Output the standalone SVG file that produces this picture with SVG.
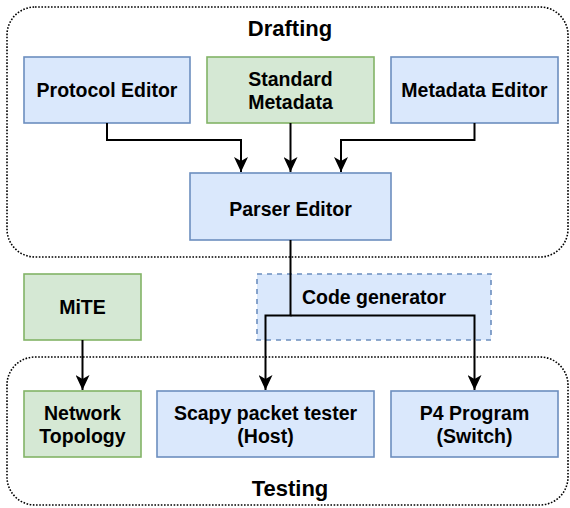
<svg xmlns="http://www.w3.org/2000/svg" width="570" height="508" viewBox="0 0 570 508">
<defs>
<style>
.cont{fill:#ffffff;stroke:#000;stroke-width:1.6;stroke-dasharray:1.6 1.6}
.blue{fill:#dae8fc;stroke:#6c8ebf;stroke-width:1.6}
.green{fill:#d5e8d4;stroke:#82b366;stroke-width:1.6}
.dash{fill:#dae8fc;stroke:#6c8ebf;stroke-width:1.6;stroke-dasharray:5 5}
text{font-family:"Liberation Sans",Arial,sans-serif;font-weight:bold;fill:#000;text-anchor:middle}
.t{font-size:19.5px}
.h{font-size:22px}
.edge{fill:none;stroke:#000;stroke-width:2}
</style>
<marker id="arr" markerWidth="15" markerHeight="14" viewBox="0 0 15 14" refX="15" refY="7" orient="auto" markerUnits="userSpaceOnUse">
<path d="M0 0 L15 7 L0 14 L4 7 Z" fill="#000"/>
</marker>
</defs>
<g id="drafting">
<rect class="cont" x="7" y="7" width="561" height="250" rx="28" ry="28"/>
<text class="h" x="290" y="36">Drafting</text>
</g>
<g id="testing">
<rect class="cont" x="7" y="357" width="561" height="148" rx="28" ry="28"/>
<text class="h" x="290" y="496">Testing</text>
</g>
<g id="code-generator">
<rect class="dash" x="257" y="274" width="234" height="66"/>
<text class="t" x="374" y="304">Code generator</text>
</g>
<g id="protocol-editor">
<rect class="blue" x="24" y="57" width="166" height="66"/>
<text class="t" x="107" y="97">Protocol Editor</text>
</g>
<g id="standard-metadata">
<rect class="green" x="207" y="57" width="167" height="66"/>
<text class="t" x="290.5" y="86">Standard</text>
<text class="t" x="290.5" y="109">Metadata</text>
</g>
<g id="metadata-editor">
<rect class="blue" x="391" y="57" width="167" height="66"/>
<text class="t" x="474.5" y="97">Metadata Editor</text>
</g>
<g id="parser-editor">
<rect class="blue" x="190" y="173" width="201" height="67"/>
<text class="t" x="290.5" y="216">Parser Editor</text>
</g>
<g id="mite">
<rect class="green" x="24" y="274" width="117" height="66"/>
<text class="t" x="82.5" y="314">MiTE</text>
</g>
<g id="network-topology">
<rect class="green" x="24" y="391" width="117" height="66"/>
<text class="t" x="82.5" y="420">Network</text>
<text class="t" x="82.5" y="443">Topology</text>
</g>
<g id="scapy">
<rect class="blue" x="157" y="391" width="217" height="66"/>
<text class="t" x="265.5" y="420">Scapy packet tester</text>
<text class="t" x="265.5" y="443">(Host)</text>
</g>
<g id="p4-program">
<rect class="blue" x="391" y="391" width="167" height="66"/>
<text class="t" x="474.5" y="420">P4 Program</text>
<text class="t" x="474.5" y="443">(Switch)</text>
</g>
<g id="connectors">
<path class="edge" d="M107 123 V140 H241 V172" marker-end="url(#arr)"/>
<path class="edge" d="M290.5 123 V172" marker-end="url(#arr)"/>
<path class="edge" d="M474.5 123 V140 H341 V172" marker-end="url(#arr)"/>
<path class="edge" d="M290.5 240 V315.5 H265.5 V390" marker-end="url(#arr)"/>
<path class="edge" d="M290.5 315.5 H474.5 V390" marker-end="url(#arr)"/>
<path class="edge" d="M82.5 340 V390" marker-end="url(#arr)"/>
</g>
</svg>
